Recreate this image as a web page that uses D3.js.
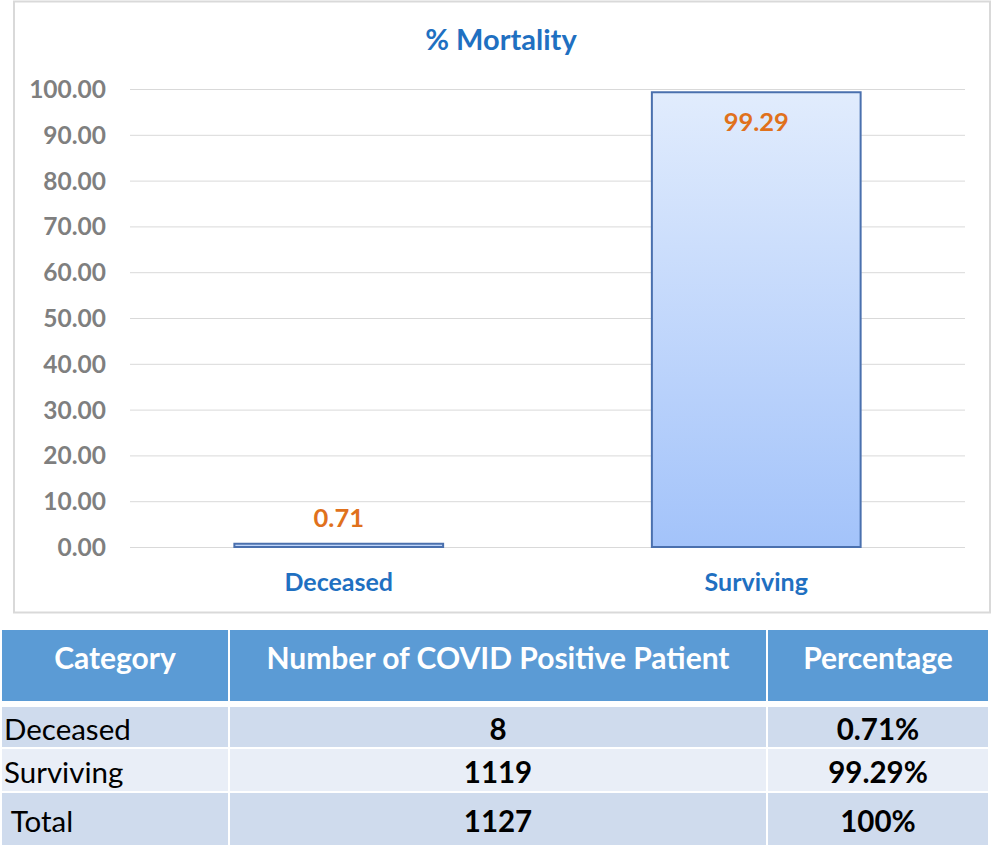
<!DOCTYPE html>
<html><head><meta charset="utf-8">
<script src="https://cdn.jsdelivr.net/npm/d3@7"></script>
<style>body{margin:0;background:#fff}svg{display:block}</style>
</head><body>
<svg id="c" width="996" height="859"></svg>
<script>
const categories = ["Deceased", "Surviving"];
const mortality = [0.71, 99.29];
const yTicks = [0, 10, 20, 30, 40, 50, 60, 70, 80, 90, 100];
const tableHeader = ["Category", "Number of COVID Positive Patient", "Percentage"];
const tableCategory = ["Deceased", "Surviving", " Total"];
const tableCount = ["8", "1119", "1127"];
const tablePct = ["0.71%", "99.29%", "100%"];

const FONT = "Lato, 'Open Sans', sans-serif";
const svg = d3.select("#c");
const defs = svg.append("defs");
const grad = defs.append("linearGradient").attr("id","g").attr("x1",0).attr("x2",0).attr("y1",0).attr("y2",1);
grad.append("stop").attr("offset","0%").attr("stop-color","#e1ecfd");
grad.append("stop").attr("offset","100%").attr("stop-color","#a3c3fa");

// chart frame
svg.append("rect").attr("x",14).attr("y",1.5).attr("width",976).attr("height",611)
  .attr("fill","#fff").attr("stroke","#d9d9d9").attr("stroke-width",2);

const x = d3.scaleBand().domain(categories).range([130,965]).paddingInner(0.5).paddingOuter(0.25);
const y = d3.scaleLinear().domain([0,100]).range([547,89]);

svg.append("text").attr("x",501).attr("y",50).attr("text-anchor","middle")
  .attr("font-family",FONT).attr("font-weight","bold").attr("font-size",29).attr("fill","#1f70c1").text("% Mortality");

// gridlines
svg.append("g").selectAll("line").data(yTicks).join("line")
  .attr("x1",130).attr("x2",965).attr("y1",d=>y(d)+0.5).attr("y2",d=>y(d)+0.5)
  .attr("stroke","#d9d9d9").attr("stroke-width",1);

const yAxis = d3.axisLeft(y).tickValues(yTicks).tickFormat(d3.format(".2f")).tickSize(0).tickPadding(0);
const ga = svg.append("g").attr("transform","translate(106,0)").call(yAxis);
ga.select(".domain").remove();
ga.selectAll("text").attr("font-family",FONT).attr("font-weight","bold").attr("font-size",24.5).attr("fill","#7f7f7f").attr("dy","0.35em");

const xAxis = d3.axisBottom(x).tickSize(0).tickPadding(0);
const gx = svg.append("g").attr("transform","translate(0,582)").call(xAxis);
gx.select(".domain").remove();
gx.selectAll("text").attr("font-family",FONT).attr("font-weight","bold").attr("font-size",25).attr("fill","#1f70c1").attr("dy","0.35em");

svg.append("g").selectAll("rect").data(categories).join("rect")
  .attr("x",d=>x(d)).attr("width",x.bandwidth())
  .attr("y",(d,i)=>y(mortality[i])).attr("height",(d,i)=>y(0)-y(mortality[i]))
  .attr("fill","url(#g)").attr("stroke","#4a70ae").attr("stroke-width",2);

svg.append("g").selectAll("text").data(categories).join("text")
  .attr("x",d=>x(d)+x.bandwidth()/2)
  .attr("y",(d,i)=> mortality[i] > 50 ? y(mortality[i]) + 39 : y(mortality[i]) - 17)
  .attr("text-anchor","middle").attr("font-family",FONT).attr("font-weight","bold").attr("font-size",25.5)
  .attr("fill","#e0711c").text((d,i)=>mortality[i].toFixed(2));

// table
const colX = [2, 230, 768, 990];
const rowY = [[707,747],[749,791],[793,845]];
const rowFill = ["#cfdbed","#e9eef7","#cfdbed"];
const tg = svg.append("g");
for (let c=0;c<3;c++){
  tg.append("rect").attr("x",colX[c]).attr("y",630).attr("width",colX[c+1]-colX[c]-2).attr("height",71).attr("fill","#5b9bd5");
  tg.append("text").attr("x",(colX[c]+colX[c+1]-2)/2).attr("y",658).attr("dy","0.35em").attr("text-anchor","middle")
    .attr("font-family",FONT).attr("font-weight","bold").attr("font-size",30).attr("fill","#fff").text(tableHeader[c]);
}
const cols = [tableCategory, tableCount, tablePct];
rowY.forEach((r,i)=>{
  for (let c=0;c<3;c++){
    tg.append("rect").attr("x",colX[c]).attr("y",r[0]).attr("width",colX[c+1]-colX[c]-2).attr("height",r[1]-r[0]).attr("fill",rowFill[i]);
    const t = tg.append("text").attr("y",(r[0]+r[1])/2+3).attr("dy","0.35em")
      .attr("font-family",FONT).attr("font-size",29.5).attr("fill","#000").attr("xml:space","preserve").style("white-space","pre");
    if (c===0) t.attr("x",4).attr("text-anchor","start").text(cols[c][i]);
    else t.attr("x",(colX[c]+colX[c+1]-2)/2).attr("text-anchor","middle").attr("font-weight","bold").text(cols[c][i]);
  }
});
</script>
</body></html>
